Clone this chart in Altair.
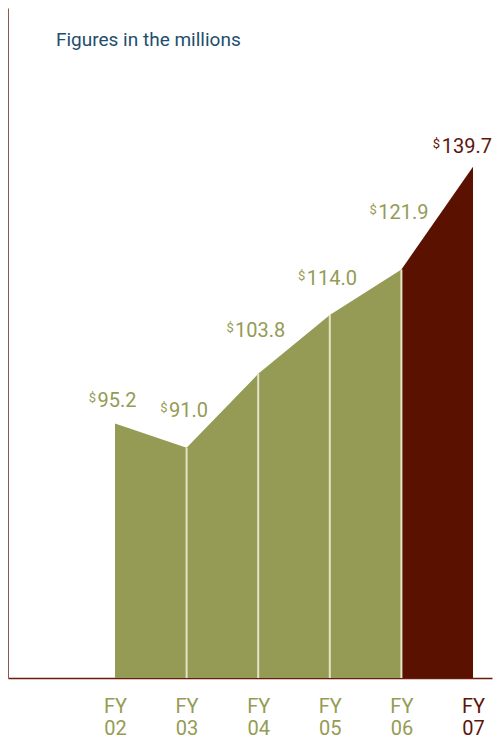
import json
import altair as alt
import pandas as pd

# ---------------- data ----------------
years = [2, 3, 4, 5, 6, 7]
values = [95.2, 91.0, 103.8, 114.0, 121.9, 139.7]
value_labels = ["95.2", "91.0", "103.8", "114.0", "121.9", "139.7"]
tick_labels = ["FY 02", "FY 03", "FY 04", "FY 05", "FY 06", "FY 07"]
currency = "$"
title_text = "Figures in the millions"

# ---------------- style / layout ----------------
OLIVE = "#959b54"
DARK = "#5a1100"
MAROON = "#5e1509"
BLUE = "#1e4e6d"
SEP = "#e6e4c8"
FONT = "Roboto"
W, H = 484, 670
PX_PER_YEAR = 71.6
Y_MIN, Y_MAX = 51.1, 167.2
X_MIN = 2 - 107 / PX_PER_YEAR
X_MAX = X_MIN + W / PX_PER_YEAR
label_lift_px = [17, 31, 37, 30, 50, 14]   # label baseline distance above point
px_per_unit = H / (Y_MAX - Y_MIN)

df = pd.DataFrame({"year": years, "value": values, "label": value_labels})
df["lift"] = label_lift_px
df["label_y"] = df["value"] + df["lift"] / px_per_unit
df["nchar"] = df["label"].str.len()
df["last"] = df["year"] == max(years)

olive_df = df[df.year <= 6]
red_df = df[df.year >= 6]
sep_df = df[(df.year >= 3) & (df.year <= 6)]

xscale = alt.Scale(domain=[X_MIN, X_MAX], nice=False, zero=False)
yscale = alt.Scale(domain=[Y_MIN, Y_MAX], nice=False, zero=False)

label_expr = f"split({json.dumps(tick_labels)}[indexof({json.dumps(years)}, datum.value)], ' ')"

x_axis = alt.Axis(
    values=years, labelExpr=label_expr, title=None, ticks=False, grid=False,
    domainColor="#6b1a0c", domainWidth=1.5, labelFont=FONT, labelFontSize=20,
    labelLineHeight=22, labelPadding=18, labelBaseline="top",
    labelColor=alt.condition("datum.value == 7", alt.value(MAROON), alt.value(OLIVE)),
)
y_axis = alt.Axis(
    title=None, labels=False, ticks=False, grid=False,
    domainColor="#8c5a4a", domainWidth=1,
)

X = alt.X("year:Q", scale=xscale)
base_x = alt.X("year:Q", scale=xscale, axis=x_axis)
base_y = alt.Y("value:Q", scale=yscale, axis=y_axis)
LY = alt.Y("label_y:Q", scale=yscale)

olive_area = alt.Chart(olive_df).mark_area(color=OLIVE, opacity=1, interpolate="linear").encode(
    x=base_x, y=base_y, y2=alt.datum(Y_MIN)
)
red_area = alt.Chart(red_df).mark_area(color=DARK, opacity=1, interpolate="linear").encode(
    x=X, y=alt.Y("value:Q", scale=yscale), y2=alt.datum(Y_MIN)
)
seps = alt.Chart(sep_df).mark_rule(color=SEP, strokeWidth=2).encode(
    x=X, y=alt.Y("value:Q", scale=yscale), y2=alt.datum(Y_MIN)
)

txt_color = alt.condition("datum.year == 7", alt.value(MAROON), alt.value(OLIVE))

numbers = alt.Chart(df).transform_filter("!datum.last").mark_text(
    font=FONT, fontSize=20, align="center", baseline="alphabetic", dx=2
).encode(x=X, y=LY, text="label:N", color=txt_color)
dollar4 = alt.Chart(df).transform_filter("datum.nchar == 4 && !datum.last").mark_text(
    font=FONT, fontSize=13, align="right", baseline="alphabetic", dx=-19, dy=-5
).encode(x=X, y=LY, text=alt.value(currency), color=txt_color)
dollar5 = alt.Chart(df).transform_filter("datum.nchar == 5 && !datum.last").mark_text(
    font=FONT, fontSize=13, align="right", baseline="alphabetic", dx=-24.5, dy=-5
).encode(x=X, y=LY, text=alt.value(currency), color=txt_color)

# last label kept inside the right edge
last_num = alt.Chart(df).transform_filter("datum.last").mark_text(
    font=FONT, fontSize=20, align="right", baseline="alphabetic", dx=19
).encode(x=X, y=LY, text="label:N", color=txt_color)
last_dollar = alt.Chart(df).transform_filter("datum.last").mark_text(
    font=FONT, fontSize=13, align="right", baseline="alphabetic", dx=-33, dy=-5
).encode(x=X, y=LY, text=alt.value(currency), color=txt_color)

title = alt.Chart(pd.DataFrame({"t": [title_text]})).mark_text(
    font=FONT, fontSize=19, align="left", baseline="alphabetic", color=BLUE
).encode(x=alt.value(48), y=alt.value(38), text="t:N")

chart = alt.layer(
    olive_area, red_area, seps, numbers, dollar4, dollar5, last_num, last_dollar, title
).properties(
    width=W, height=H,
    autosize=alt.AutoSizeParams(type="none"),
    padding={"left": 0, "top": 0, "right": 1, "bottom": 60},
).configure_view(stroke=None)

chart.save("out.html", embed_options={"renderer": "svg", "actions": False})
